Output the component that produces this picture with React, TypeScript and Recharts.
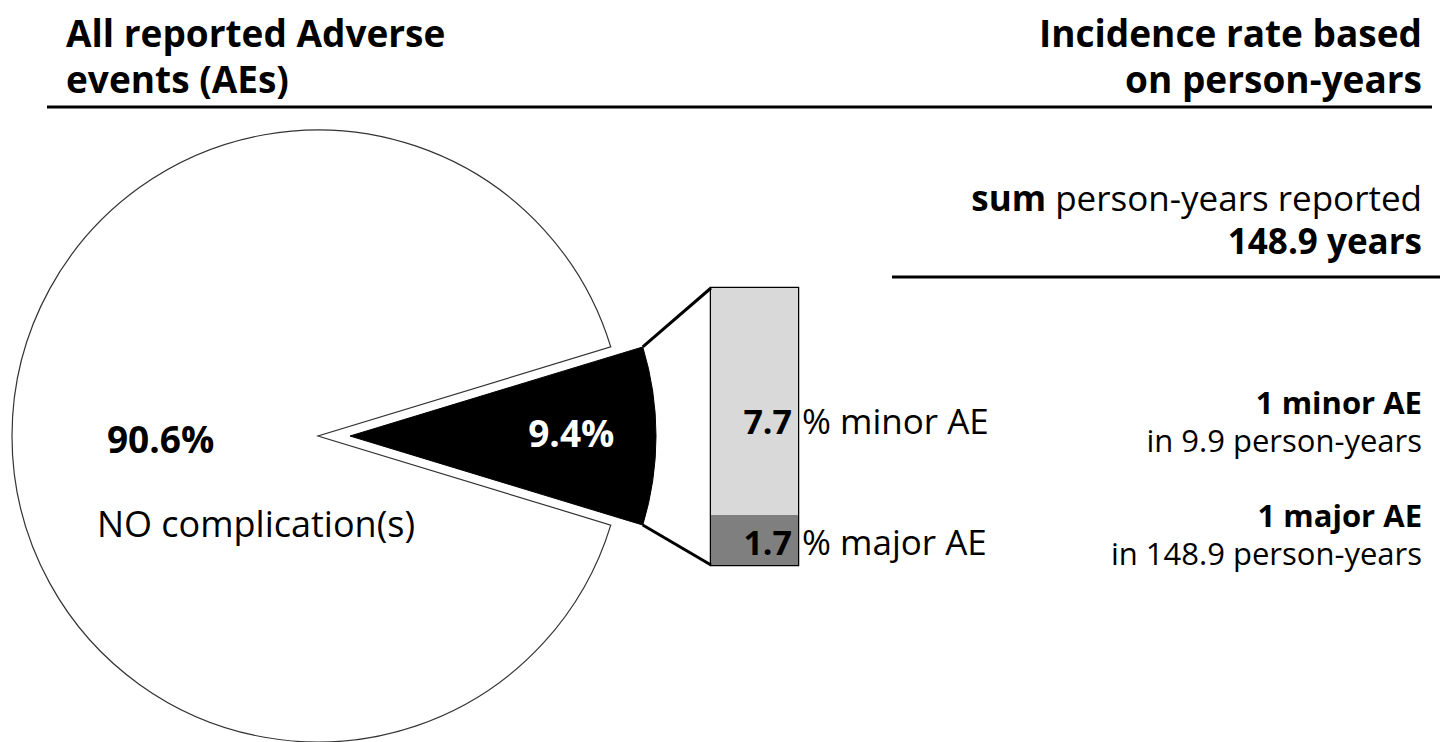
import React from 'react';
import { PieChart, Pie, Cell, BarChart, Bar, XAxis, YAxis, ReferenceArea, LabelList } from 'recharts';

// ---- data ----
const pieNames = ['AEs', 'NO complication(s)'];
const pieValues = [9.4, 90.6];
const aeNames = ['minor AE', 'major AE'];
const aeValues = [7.7, 1.7];
const sumPersonYears = 148.9;
const perPersonYears = [9.9, 148.9];
const leftTitle = ['All reported Adverse', 'events (AEs)'];
const rightTitle = ['Incidence rate based', 'on person-years'];

const pieData = pieNames.map((name, i) => ({ name, value: pieValues[i] }));
const barData = [{ cat: 'AE', major: aeValues[1], minor: aeValues[0] }];
const barTotal = aeValues[0] + aeValues[1];

// ---- layout ----
const W = 1448;
const H = 742;
const FONT = '"Open Sans", "Noto Sans", sans-serif';
const PIE_CX = 318;
const PIE_CY = 436;
const PIE_R = 306;
const EXPLODE = 32;
const RAD = Math.PI / 180;
const HALF = ((pieValues[0] / 100) * 360) / 2;
const START = -HALF;
const END = 360 - HALF;

const BAR_LEFT = 711;
const BAR_TOP = 288;
const BAR_W = 87;
const BAR_H = 277;
const BM = 10;
const BAR_RIGHT_SPACE = 240;

const cornerX = PIE_CX + EXPLODE + PIE_R * Math.cos(HALF * RAD);
const cornerDY = PIE_R * Math.sin(HALF * RAD);

const RIGHT_X = 1422;

const whiteLabel = (props: any) => {
  if (props.index !== 1) return null;
  const { cx, cy, midAngle, outerRadius, value, name } = props;
  const px = cx + outerRadius * 0.52 * Math.cos(-midAngle * RAD);
  const py = cy + outerRadius * 0.52 * Math.sin(-midAngle * RAD);
  return (
    <g>
      <text x={px - 52} y={py + 17} fontFamily={FONT} fontSize={37} fontWeight={700} fill="#000" textAnchor="start">
        {value.toFixed(1)}%
      </text>
      <text x={px - 62} y={py + 101} fontFamily={FONT} fontSize={36} fill="#000" textAnchor="start">
        {name}
      </text>
    </g>
  );
};

const blackLabel = (props: any) => {
  if (props.index !== 0) return null;
  const { cx, cy, midAngle, outerRadius, value } = props;
  const px = cx + outerRadius * 0.72 * Math.cos(-midAngle * RAD);
  const py = cy + outerRadius * 0.72 * Math.sin(-midAngle * RAD);
  return (
    <text x={px + 1} y={py + 11} fontFamily={FONT} fontSize={37} fontWeight={700} fill="#fff" textAnchor="middle">
      {value.toFixed(1)}%
    </text>
  );
};

const makeBarLabel = (name: string, dy: number) => (props: any) => {
  const { x, y, width, height, value } = props;
  const by = y + height / 2 + dy;
  return (
    <g>
      <text x={x + width - 6} y={by} fontFamily={FONT} fontSize={34} fontWeight={700} fill="#000" textAnchor="end">
        {Number(value).toFixed(1)}
      </text>
      <text x={x + width + 4} y={by} fontFamily={FONT} fontSize={35} fill="#000" textAnchor="start">
        % {name}
      </text>
    </g>
  );
};

export default function App() {
  return (
    <div style={{ position: 'absolute', left: 0, top: 0, width: W, height: H, overflow: 'hidden', background: '#fff', fontFamily: FONT }}>
      <div style={{ position: 'absolute', left: 0, top: 0 }}>
        <PieChart width={W} height={H} margin={{ top: 0, right: 0, bottom: 0, left: 0 }}>
          <Pie
            data={pieData}
            dataKey="value"
            nameKey="name"
            cx={PIE_CX}
            cy={PIE_CY}
            outerRadius={PIE_R}
            innerRadius={0}
            startAngle={START}
            endAngle={END}
            isAnimationActive={false}
            label={whiteLabel}
            labelLine={false}
          >
            <Cell fill="none" stroke="none" />
            <Cell fill="#fff" stroke="#333" strokeWidth={1.2} />
          </Pie>
          <Pie
            data={pieData}
            dataKey="value"
            nameKey="name"
            cx={PIE_CX + EXPLODE}
            cy={PIE_CY}
            outerRadius={PIE_R}
            innerRadius={0}
            startAngle={START}
            endAngle={END}
            isAnimationActive={false}
            label={blackLabel}
            labelLine={false}
          >
            <Cell fill="#000" stroke="#000" strokeWidth={1} />
            <Cell fill="none" stroke="none" />
          </Pie>
        </PieChart>
      </div>
      <div style={{ position: 'absolute', left: BAR_LEFT - BM, top: BAR_TOP - BM }}>
        <BarChart
          width={BM + BAR_W + BAR_RIGHT_SPACE}
          height={BM + BAR_H + BM}
          data={barData}
          margin={{ top: BM, right: BAR_RIGHT_SPACE, bottom: BM, left: BM }}
          barCategoryGap={0}
        >
          <XAxis dataKey="cat" hide />
          <YAxis type="number" domain={[0, barTotal]} hide />
          <Bar dataKey="major" stackId="ae" fill="#7f7f7f" isAnimationActive={false}>
            <LabelList dataKey="major" content={makeBarLabel(aeNames[1], 15)} />
          </Bar>
          <Bar dataKey="minor" stackId="ae" fill="#d9d9d9" isAnimationActive={false}>
            <LabelList dataKey="minor" content={makeBarLabel(aeNames[0], 33)} />
          </Bar>
          <ReferenceArea x1="AE" x2="AE" y1={0} y2={barTotal} fill="none" stroke="#000" strokeWidth={2.5} ifOverflow="visible" />
        </BarChart>
      </div>
      <svg width={W} height={H} style={{ position: 'absolute', left: 0, top: 0, pointerEvents: 'none' }}>
        <line x1={cornerX} y1={PIE_CY - cornerDY} x2={BAR_LEFT} y2={BAR_TOP} stroke="#000" strokeWidth={3} />
        <line x1={cornerX} y1={PIE_CY + cornerDY} x2={BAR_LEFT} y2={BAR_TOP + BAR_H} stroke="#000" strokeWidth={3} />

        <text x={66} y={47} fontFamily={FONT} fontSize={37} fontWeight={700} fill="#000">{leftTitle[0]}</text>
        <text x={66} y={93} fontFamily={FONT} fontSize={37} fontWeight={700} fill="#000">{leftTitle[1]}</text>
        <text x={RIGHT_X} y={47} fontFamily={FONT} fontSize={37} fontWeight={700} fill="#000" textAnchor="end">{rightTitle[0]}</text>
        <text x={RIGHT_X} y={93} fontFamily={FONT} fontSize={37} fontWeight={700} fill="#000" textAnchor="end">{rightTitle[1]}</text>
        <line x1={47} y1={107} x2={1432} y2={107} stroke="#000" strokeWidth={3} />

        <text x={RIGHT_X} y={211} fontFamily={FONT} fontSize={35} fill="#000" textAnchor="end">
          <tspan fontWeight={700}>sum</tspan> person-years reported
        </text>
        <text x={RIGHT_X} y={254} fontFamily={FONT} fontSize={35} fontWeight={700} fill="#000" textAnchor="end">
          {sumPersonYears.toFixed(1)} years
        </text>
        <line x1={892} y1={277} x2={1440} y2={277} stroke="#000" strokeWidth={3} />

        <text x={RIGHT_X} y={414} fontFamily={FONT} fontSize={31} fontWeight={700} fill="#000" textAnchor="end">1 minor AE</text>
        <text x={RIGHT_X} y={452} fontFamily={FONT} fontSize={31} fill="#000" textAnchor="end">in {perPersonYears[0].toFixed(1)} person-years</text>
        <text x={RIGHT_X} y={527} fontFamily={FONT} fontSize={31} fontWeight={700} fill="#000" textAnchor="end">1 major AE</text>
        <text x={RIGHT_X} y={565} fontFamily={FONT} fontSize={31} fill="#000" textAnchor="end">in {perPersonYears[1].toFixed(1)} person-years</text>
      </svg>
    </div>
  );
}
